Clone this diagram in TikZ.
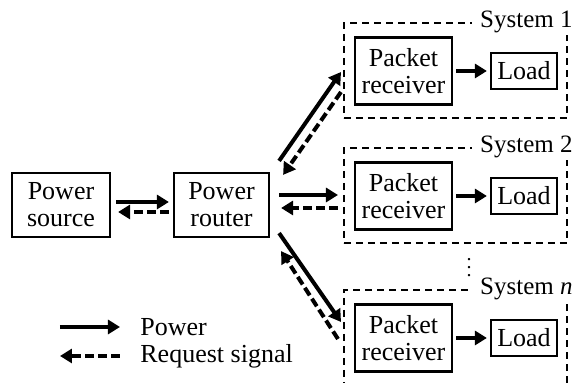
\documentclass[tikz,border=0pt]{standalone}
\usepackage{fontspec}
\setmainfont{Liberation Serif}
\usetikzlibrary{arrows.meta}

\tikzset{
  blk/.style={draw,line width=1.1pt,inner sep=0pt,align=center,font=\fontsize{13}{13.5}\selectfont},
  sysbox/.style={draw,line width=1pt,dash pattern=on 3.5pt off 2.5pt,inner sep=0pt},
  syslbl/.style={fill=white,inner xsep=4pt,inner ysep=1pt,anchor=base east,font=\fontsize{12.5}{13.5}\selectfont},
  lgd/.style={inner sep=0pt,anchor=west,font=\fontsize{13}{13.5}\selectfont},
  pwr/.style={line width=2pt,-{Triangle[length=6pt,width=7pt]}},
  req/.style={pwr,dash pattern=on 4.5pt off 2pt},
}

\begin{document}
\begin{tikzpicture}[x=0.5pt,y=-0.5pt]
\clip (0,0) rectangle (575,383);

% source and router
\node[blk,minimum width=49pt,minimum height=32pt] (src) at (61,205) {Power\\source};
\node[blk,minimum width=47.5pt,minimum height=32pt] (router) at (221.5,205) {Power\\router};

% system boxes
\node[sysbox,minimum width=111.5pt,minimum height=47.5pt] (sys1) at (455.5,70.5) {};
\node[sysbox,minimum width=111.5pt,minimum height=47.5pt] (sys2) at (455.5,195.5) {};
\node[sysbox,minimum width=111.5pt,minimum height=55pt] (sysn) at (455.5,345) {};
\node[syslbl] (lbl1) at (581,28) {System 1};
\node[syslbl] (lbl2) at (581,153) {System 2};
\node[syslbl] (lbln) at (581,295) {System \textit{n}};

% receivers and loads
\node[blk,minimum width=48.5pt,minimum height=33.5pt] (pr1) at (403.5,71) {Packet\\receiver};
\node[blk,minimum width=33pt,minimum height=18pt] (load1) at (524,71) {Load};
\node[blk,minimum width=48.5pt,minimum height=33.5pt] (pr2) at (403.5,196) {Packet\\receiver};
\node[blk,minimum width=33pt,minimum height=18pt] (load2) at (524,196) {Load};
\node[blk,minimum width=48.5pt,minimum height=33.5pt] (prn) at (403.5,338) {Packet\\receiver};
\node[blk,minimum width=33pt,minimum height=18pt] (loadn) at (524,338) {Load};
\node (vd) at (469,262) {$\vdots$};

% power and request arrows
\draw[pwr] ([shift={(5,-3)}]src.east) -- ([shift={(-4,-3)}]router.west);
\draw[req] ([shift={(-4,7)}]router.west) -- ([shift={(7,7)}]src.east);

\draw[pwr] ([shift={(9,-11)}]router.north east) -- ([shift={(-2,1.5)}]sys1.west);
\draw[req] ([shift={(-2,-27)}]sys1.south west) -- ([shift={(13,3)}]router.north east);

\draw[pwr] ([shift={(9,-10)}]router.east) -- ([shift={(-5,-0.5)}]sys2.west);
\draw[req] ([shift={(-5,12.5)}]sys2.west) -- ([shift={(11,3)}]router.east);

\draw[pwr] ([shift={(9,-5)}]router.south east) -- ([shift={(-2,33)}]sysn.north west);
\draw[req] ([shift={(-5,50)}]sysn.north west) -- ([shift={(11,13)}]router.south east);

\draw[pwr,shorten <=1.5pt,shorten >=1.5pt] (pr1) -- (load1);
\draw[pwr,shorten <=1.5pt,shorten >=1.5pt] (pr2) -- (load2);
\draw[pwr,shorten <=1.5pt,shorten >=1.5pt] (prn) -- (loadn);

% legend
\node[lgd] (lgdpwr) at (140,327) {Power};
\node[lgd] (lgdreq) at (140,356) {Request signal};
\coordinate (lp) at (60,327);
\coordinate (lr) at (60,356);
\draw[pwr] (lp) -- ([xshift=-10pt]lgdpwr.west);
\draw[req] ([xshift=-10pt]lgdreq.west) -- (lr);

\end{tikzpicture}
\end{document}
